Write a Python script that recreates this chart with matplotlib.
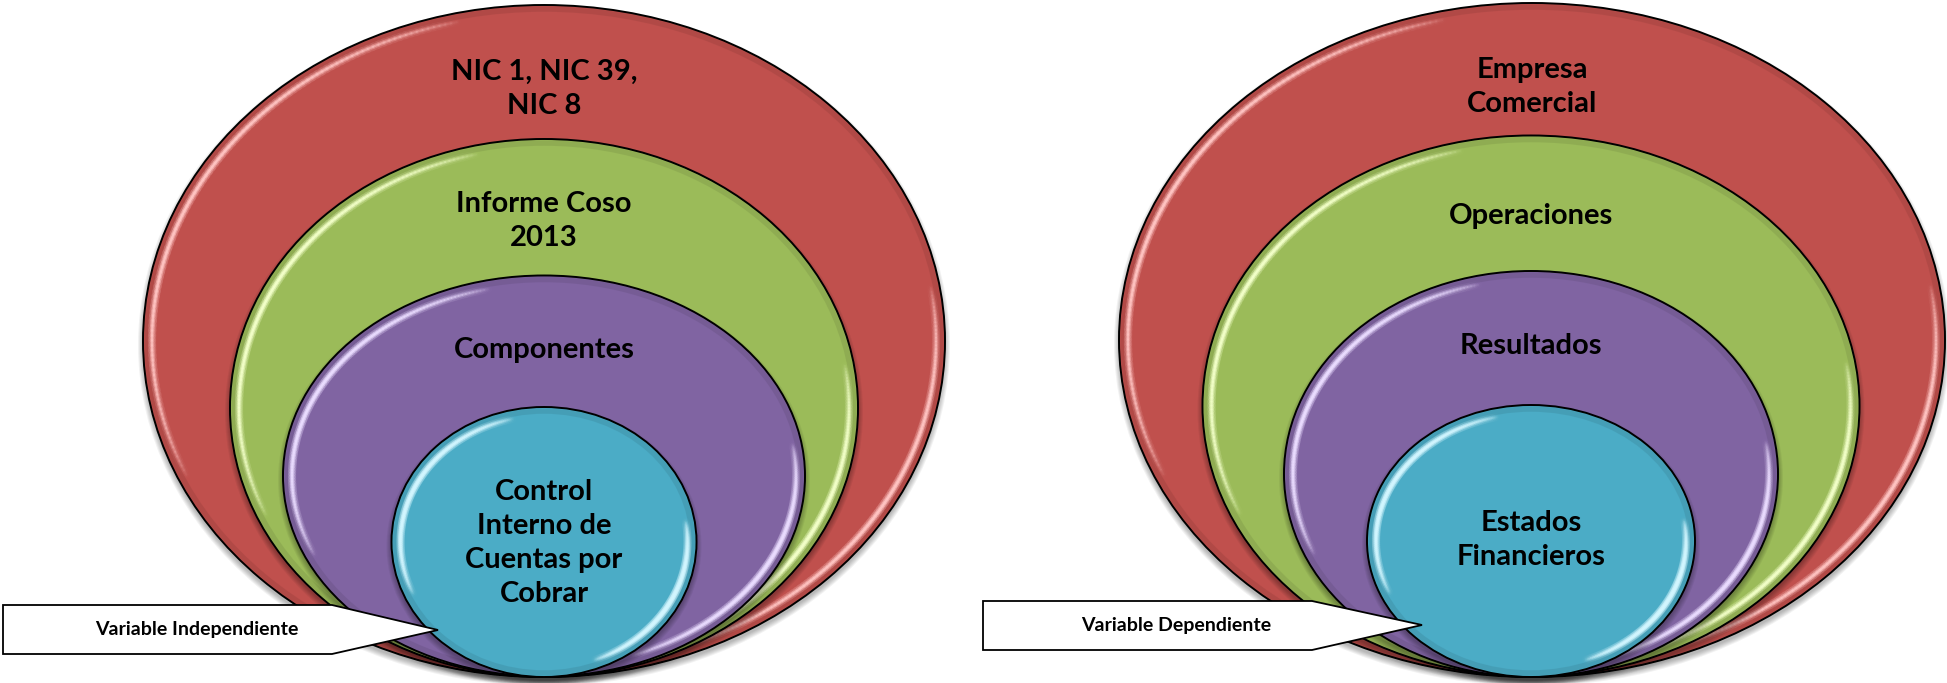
import numpy as np
import matplotlib
matplotlib.use("Agg")
import matplotlib.pyplot as plt
from matplotlib.patches import Ellipse, Polygon
from matplotlib.collections import LineCollection
from matplotlib.colors import to_rgb

W, H = 1947, 683

# ring labels, outermost ring first
LEFT_LABELS = ["NIC 1, NIC 39,\nNIC 8", "Informe Coso\n2013", "Componentes",
               "Control\nInterno de\nCuentas por\nCobrar"]
RIGHT_LABELS = ["Empresa\nComercial", "Operaciones", "Resultados",
                "Estados\nFinancieros"]
CALLOUTS = ["Variable Independiente", "Variable Dependiente"]

FILLS = ["#C0504D", "#9BBB59", "#8064A2", "#4BACC6"]
GLOWS = ["#FFC4C2", "#F2FFC8", "#EADCFF", "#D2F6FF"]

# ring geometry in pixels: (cx, cy, width, height, label_y)
LEFT_RINGS = [(544, 341, 802, 672, 89), (544, 408, 628, 538, 221),
              (544, 476, 522, 401, 350), (544, 542, 305, 270, 543)]
RIGHT_RINGS = [(1532, 340, 826, 674, 87), (1531, 406, 657, 541, 216),
               (1531, 474, 494, 406, 346), (1531, 541, 328, 272, 540)]
# callout: left, right of box, top, bottom, tip x, tip y, text x
LEFT_BOX = (3, 332, 605, 654, 438, 630, 197)
RIGHT_BOX = (983, 1312, 601, 650, 1422, 625, 1176)

FONT = "Lato"


def glow_arc(ax, cx, cy, w, h, inset, t0, t1, color, z):
    a, b = w / 2 - inset, h / 2 - inset
    t = np.radians(np.linspace(t0, t1, 120))
    pts = np.column_stack([cx + a * np.cos(t), cy - b * np.sin(t)])
    segs = np.stack([pts[:-1], pts[1:]], axis=1)
    fade = np.sin(np.linspace(0, np.pi, len(segs))) ** 0.7
    rgb = to_rgb(color)
    for lw, al in [(6, 0.18), (3.5, 0.4), (1.6, 0.95)]:
        cols = [(rgb[0], rgb[1], rgb[2], al * f) for f in fade]
        ax.add_collection(LineCollection(segs, colors=cols, linewidths=lw,
                                         capstyle="round", zorder=z))


def ring(ax, cx, cy, w, h, fill, glow, z):
    # soft drop shadow
    for k in range(6):
        ax.add_patch(Ellipse((cx, cy + 4), w + 2 * k, h + 2 * k, facecolor="black",
                             edgecolor="none", alpha=0.05, zorder=z - 0.5))
    ax.add_patch(Ellipse((cx, cy), w, h, facecolor=fill, edgecolor="none", zorder=z))
    # darker rim just inside the outline
    dark = tuple(c * 0.85 for c in to_rgb(fill))
    ax.add_patch(Ellipse((cx, cy), w - 8, h - 8, facecolor="none", edgecolor=dark,
                         lw=4, alpha=0.5, zorder=z + 0.1))
    glow_arc(ax, cx, cy, w, h, 9, 102, 205, glow, z + 0.2)
    glow_arc(ax, cx, cy, w, h, 9, -70, 10, glow, z + 0.2)
    ax.add_patch(Ellipse((cx, cy), w, h, facecolor="none", edgecolor="black",
                         lw=1.4, zorder=z + 0.3))


def callout(ax, box, text):
    x0, x1, yt, yb, tx, ty, lx = box
    ax.add_patch(Polygon([(x0, yt), (x1, yt), (tx, ty), (x1, yb), (x0, yb)],
                         closed=True, facecolor="white", edgecolor="black",
                         lw=1.3, zorder=20))
    ax.text(lx, (yt + yb) / 2, text, ha="center", va="center",
            fontsize=14, fontweight="bold", family=FONT, color="black", zorder=21)


fig = plt.figure(figsize=(W / 100, H / 100), dpi=100)
ax = fig.add_axes([0, 0, 1, 1])
ax.set_xlim(0, W)
ax.set_ylim(H, 0)
ax.set_axis_off()

for rings, labels in [(LEFT_RINGS, LEFT_LABELS), (RIGHT_RINGS, RIGHT_LABELS)]:
    for i, ((cx, cy, w, h, ly), lab) in enumerate(zip(rings, labels)):
        z = 2 + 2 * i
        ring(ax, cx, cy, w, h, FILLS[i], GLOWS[i], z)
        ax.text(cx, ly, lab, ha="center", va="center", fontsize=21,
                fontweight="bold", family=FONT, color="black",
                linespacing=1.38, zorder=z + 0.5)

callout(ax, LEFT_BOX, CALLOUTS[0])
callout(ax, RIGHT_BOX, CALLOUTS[1])

fig.savefig("out.png", dpi=100, facecolor="white")
